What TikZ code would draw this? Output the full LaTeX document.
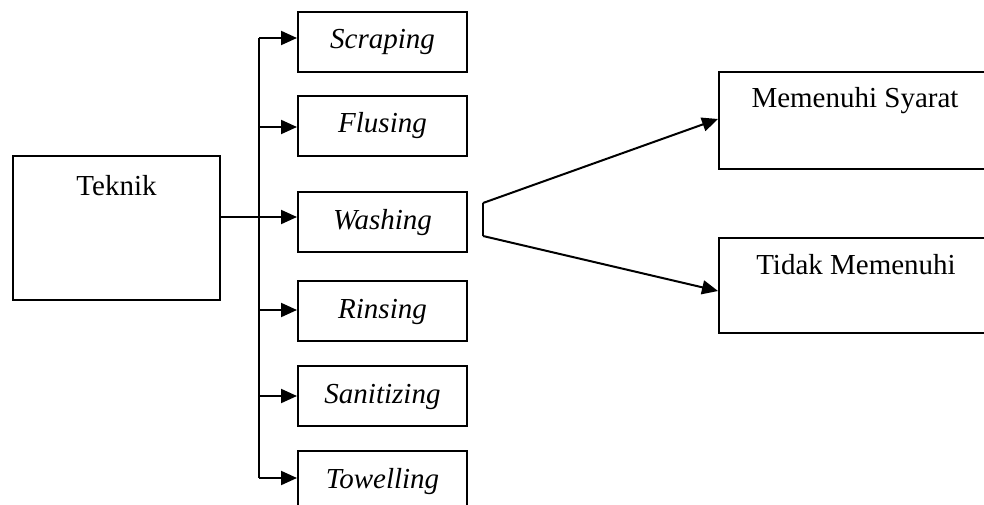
\documentclass[tikz,border=0pt]{standalone}
\usepackage{fontspec}
\setmainfont{Liberation Serif}
\usetikzlibrary{arrows.meta}
\begin{document}
\begin{tikzpicture}[x=1pt,y=-1pt,
  every node/.style={font=\fontsize{29}{34}\selectfont},
  bigbox/.style={draw, line width=2pt, rectangle, anchor=north west, inner xsep=0pt, inner ysep=0pt, align=center},
  stepbox/.style={draw, line width=2pt, rectangle, anchor=north west, inner sep=0pt,
    minimum width=169pt, minimum height=60pt, text height=21pt, text depth=7pt,
    font=\fontsize{29}{34}\selectfont\itshape},
  conn/.style={line width=2pt},
  arr/.style={line width=2pt, -{Triangle[length=16pt,width=14pt]}}
]
\clip (0,0) rectangle (984,505);
\fill[white] (0,0) rectangle (984,505);

\node[bigbox, minimum width=207pt, text height=39pt, text depth=105pt] (teknik) at (12,155) {Teknik};

\node[stepbox] (scraping) at (297,11) {Scraping};
\node[stepbox] (flusing) at (297,95) {Flusing};
\node[stepbox] (washing) at (297,191) {Washing};
\node[stepbox] (rinsing) at (297,280) {Rinsing};
\node[stepbox] (sanitizing) at (297,365) {Sanitizing};
\node[stepbox] (towelling) at (297,450) {Towelling};

\node[bigbox, minimum width=272pt, text height=36pt, text depth=61pt] (memenuhi) at (718,71) {Memenuhi Syarat};
\node[bigbox, minimum width=274pt, text height=36pt, text depth=59pt] (tidak) at (718,237) {Tidak Memenuhi};

% bus
\coordinate (b1) at (259,38);
\coordinate (b2) at (259,127);
\coordinate (b3) at (259,217);
\coordinate (b4) at (259,310);
\coordinate (b5) at (259,396);
\coordinate (b6) at (259,478);
\draw[conn] (b1) -- (b6);
\draw[arr] (b1) -- (b1 -| scraping.west);
\draw[arr] (b2) -- (b2 -| flusing.west);
\draw[arr] (b3) -- (b3 -| washing.west);
\draw[arr] (b4) -- (b4 -| rinsing.west);
\draw[arr] (b5) -- (b5 -| sanitizing.west);
\draw[arr] (b6) -- (b6 -| towelling.west);
\draw[conn] (b3 -| teknik.east) -- (b3);

% fork
\coordinate (f1) at (483,203);
\coordinate (f2) at (483,236);
\coordinate (m1) at (718,119);
\coordinate (t1) at (718,291);
\draw[conn] (f1) -- (f2);
\draw[arr] (f1) -- (m1 -| memenuhi.west);
\draw[arr] (f2) -- (t1 -| tidak.west);
\end{tikzpicture}
\end{document}
